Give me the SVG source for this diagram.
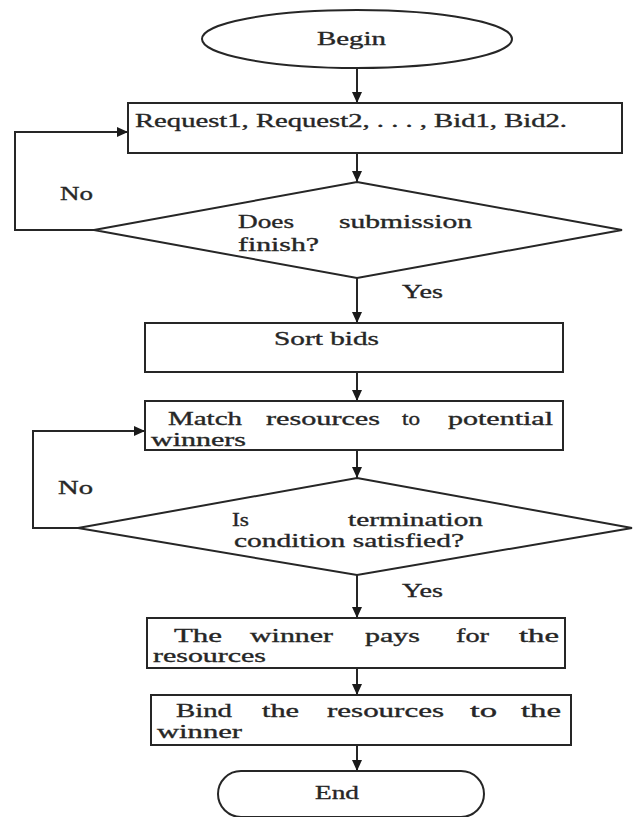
<svg xmlns="http://www.w3.org/2000/svg" width="633" height="817" viewBox="0 0 633 817">
<style>
.s{fill:#fff;stroke:#262626;stroke-width:2}
.c{fill:none;stroke:#262626;stroke-width:2}
text{font-family:"Liberation Serif","Times New Roman",serif;font-size:19px;fill:#262626;stroke:#262626;stroke-width:0.35}
</style>
<defs>
<marker id="ah" markerUnits="userSpaceOnUse" markerWidth="12" markerHeight="10" refX="11" refY="5" orient="auto">
<path d="M0,0 L11,5 L0,10 z" fill="#1a1a1a"/>
</marker>
</defs>
<rect width="633" height="817" fill="#fff"/>
<g id="connectors">
<line class="c" x1="357" y1="68" x2="357" y2="103" marker-end="url(#ah)"/>
<line class="c" x1="357" y1="153" x2="357" y2="182" marker-end="url(#ah)"/>
<path class="c" d="M94,230 H15 V132 H128" marker-end="url(#ah)"/>
<line class="c" x1="357" y1="278" x2="357" y2="323" marker-end="url(#ah)"/>
<line class="c" x1="357" y1="372" x2="357" y2="401" marker-end="url(#ah)"/>
<line class="c" x1="357" y1="450" x2="357" y2="478" marker-end="url(#ah)"/>
<path class="c" d="M78,528 H33 V431 H145" marker-end="url(#ah)"/>
<line class="c" x1="357" y1="575" x2="357" y2="618" marker-end="url(#ah)"/>
<line class="c" x1="357" y1="668" x2="357" y2="695" marker-end="url(#ah)"/>
<line class="c" x1="357" y1="745" x2="357" y2="771" marker-end="url(#ah)"/>
<text x="60" y="200" textLength="33" lengthAdjust="spacingAndGlyphs">No</text>
<text x="402" y="298" textLength="41" lengthAdjust="spacingAndGlyphs">Yes</text>
<text x="58" y="494" textLength="35" lengthAdjust="spacingAndGlyphs">No</text>
<text x="402" y="597" textLength="41" lengthAdjust="spacingAndGlyphs">Yes</text>
</g>
<g id="begin">
<ellipse class="s" cx="357" cy="39" rx="155" ry="29"/>
<text x="317" y="45" textLength="69" lengthAdjust="spacingAndGlyphs">Begin</text>
</g>
<g id="submit">
<rect class="s" x="128" y="103" width="494" height="50"/>
<text x="135" y="127" textLength="432" lengthAdjust="spacingAndGlyphs">Request1, Request2, . . . , Bid1, Bid2.</text>
</g>
<g id="decision1">
<polygon class="s" points="357,182 622,230 357,278 94,230"/>
<text x="238" y="228" textLength="56" lengthAdjust="spacingAndGlyphs">Does</text>
<text x="339" y="228" textLength="133" lengthAdjust="spacingAndGlyphs">submission</text>
<text x="238" y="251" textLength="81" lengthAdjust="spacingAndGlyphs">finish?</text>
</g>
<g id="sort">
<rect class="s" x="145" y="323" width="418" height="49"/>
<text x="274" y="345" textLength="105" lengthAdjust="spacingAndGlyphs">Sort bids</text>
</g>
<g id="match">
<rect class="s" x="145" y="401" width="418" height="49"/>
<text x="168" y="425" textLength="74" lengthAdjust="spacingAndGlyphs">Match</text>
<text x="266" y="425" textLength="114" lengthAdjust="spacingAndGlyphs">resources</text>
<text x="402" y="425" textLength="18" lengthAdjust="spacingAndGlyphs">to</text>
<text x="448" y="425" textLength="105" lengthAdjust="spacingAndGlyphs">potential</text>
<text x="151" y="446" textLength="95" lengthAdjust="spacingAndGlyphs">winners</text>
</g>
<g id="decision2">
<polygon class="s" points="357,478 632,528 357,575 78,528"/>
<text x="232" y="526" textLength="17" lengthAdjust="spacingAndGlyphs">Is</text>
<text x="348" y="526" textLength="135" lengthAdjust="spacingAndGlyphs">termination</text>
<text x="234" y="547" textLength="230" lengthAdjust="spacingAndGlyphs">condition satisfied?</text>
</g>
<g id="pay">
<rect class="s" x="147" y="618" width="418" height="50"/>
<text x="174" y="642" textLength="48" lengthAdjust="spacingAndGlyphs">The</text>
<text x="250" y="642" textLength="83" lengthAdjust="spacingAndGlyphs">winner</text>
<text x="365" y="642" textLength="55" lengthAdjust="spacingAndGlyphs">pays</text>
<text x="456" y="642" textLength="33" lengthAdjust="spacingAndGlyphs">for</text>
<text x="519" y="642" textLength="40" lengthAdjust="spacingAndGlyphs">the</text>
<text x="153" y="662" textLength="113" lengthAdjust="spacingAndGlyphs">resources</text>
</g>
<g id="bind">
<rect class="s" x="151" y="695" width="420" height="50"/>
<text x="176" y="717" textLength="56" lengthAdjust="spacingAndGlyphs">Bind</text>
<text x="262" y="717" textLength="37" lengthAdjust="spacingAndGlyphs">the</text>
<text x="327" y="717" textLength="117" lengthAdjust="spacingAndGlyphs">resources</text>
<text x="470" y="717" textLength="27" lengthAdjust="spacingAndGlyphs">to</text>
<text x="521" y="717" textLength="40" lengthAdjust="spacingAndGlyphs">the</text>
<text x="157" y="738" textLength="85" lengthAdjust="spacingAndGlyphs">winner</text>
</g>
<g id="end">
<rect class="s" x="218" y="771" width="266" height="46" rx="23" ry="23"/>
<text x="315" y="799" textLength="44" lengthAdjust="spacingAndGlyphs">End</text>
</g>
</svg>
